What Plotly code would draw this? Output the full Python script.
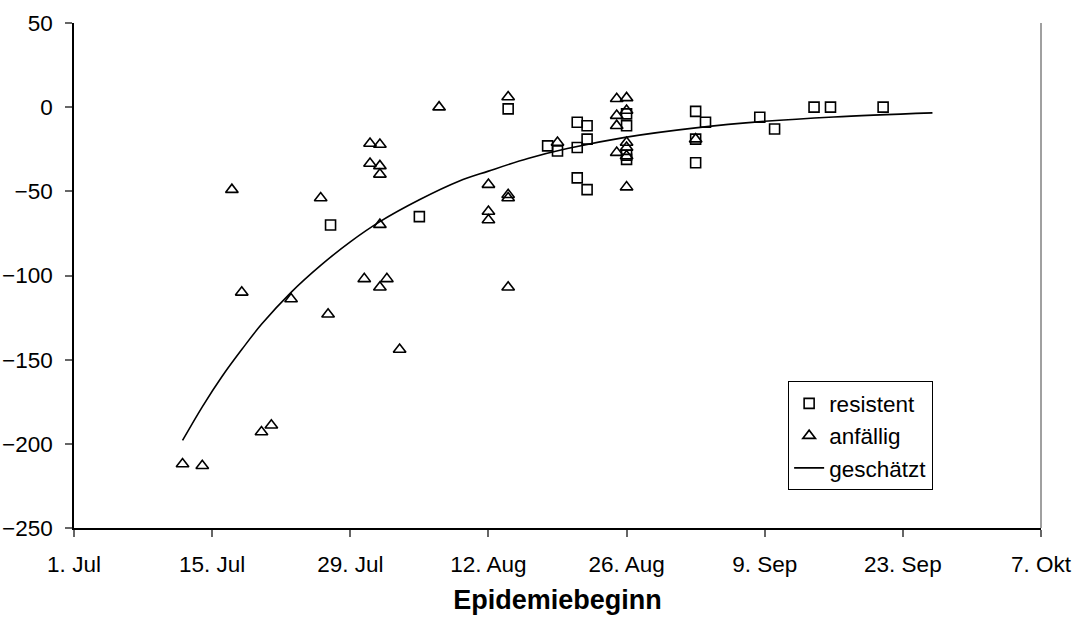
import plotly.graph_objects as go

# --- data ---
res_dates = ["2003-07-27", "2003-08-05", "2003-08-14", "2003-08-18", "2003-08-19",
             "2003-08-21", "2003-08-22", "2003-08-22", "2003-08-21", "2003-08-21",
             "2003-08-22", "2003-08-26", "2003-08-26", "2003-08-26", "2003-08-26",
             "2003-09-02", "2003-09-03", "2003-09-02", "2003-09-02", "2003-09-08 12:00",
             "2003-09-10", "2003-09-14", "2003-09-15 16:00", "2003-09-21"]
res_values = [-70, -65, -1, -23, -26,
              -9, -11, -19, -24, -42,
              -49, -4, -11, -28.5, -31,
              -2.5, -9, -19, -33, -6,
              -13, 0, 0, 0]

anf_dates = ["2003-07-12", "2003-07-14", "2003-07-17", "2003-07-18", "2003-07-20",
             "2003-07-21", "2003-07-23", "2003-07-26", "2003-07-26 18:00", "2003-07-30 10:00",
             "2003-07-31", "2003-07-31", "2003-08-01", "2003-08-01", "2003-08-01",
             "2003-08-01", "2003-08-01", "2003-08-01 17:00", "2003-08-03", "2003-08-07",
             "2003-08-12", "2003-08-12", "2003-08-12", "2003-08-14", "2003-08-14",
             "2003-08-14", "2003-08-14", "2003-08-19", "2003-08-25", "2003-08-26",
             "2003-08-25", "2003-08-26", "2003-08-25", "2003-08-26", "2003-08-26",
             "2003-08-25", "2003-08-26", "2003-08-26", "2003-09-02"]
anf_values = [-212, -213, -49, -110, -193,
              -189, -114, -54, -123, -102,
              -21.6, -33.5, -22.2, -34.9, -39.9,
              -69.8, -107, -102, -144, 0,
              -46, -62, -67, 6, -52,
              -54, -107, -21, 5, 5.5,
              -5, -2, -11, -21, -24,
              -27, -29, -47.5, -19]

est_dates = ["2003-07-12", "2003-07-14", "2003-07-16", "2003-07-18", "2003-07-20",
             "2003-07-23", "2003-07-26", "2003-07-29", "2003-08-01", "2003-08-05",
             "2003-08-09", "2003-08-12", "2003-08-16", "2003-08-20", "2003-08-26",
             "2003-09-02", "2003-09-09", "2003-09-16", "2003-09-26"]
est_values = [-198, -178, -160, -144, -129,
              -110, -94, -80, -68, -55,
              -44, -38, -30.5, -24.6, -17.8,
              -12.3, -8.4, -5.8, -3.4]

tick_dates = ["2003-07-01", "2003-07-15", "2003-07-29", "2003-08-12",
              "2003-08-26", "2003-09-09", "2003-09-23", "2003-10-07"]
tick_labels = ["1. Jul", "15. Jul", "29. Jul", "12. Aug",
               "26. Aug", "9. Sep", "23. Sep", "7. Okt"]
y_ticks = [50, 0, -50, -100, -150, -200, -250]

FONT = "Liberation Sans, Arial, sans-serif"

fig = go.Figure()
fig.add_trace(go.Scatter(
    x=res_dates, y=res_values, mode="markers", name="resistent",
    marker=dict(symbol="square-open", size=10, color="black", line=dict(width=1.6, color="black")),
))
fig.add_trace(go.Scatter(
    x=anf_dates, y=anf_values, mode="markers", name="anfällig",
    marker=dict(symbol="triangle-up-open", size=11, color="black", line=dict(width=1.6, color="black")),
))
fig.add_trace(go.Scatter(
    x=est_dates, y=est_values, mode="lines", name="geschätzt",
    line=dict(color="black", width=1.6, shape="spline"),
))

fig.update_layout(
    width=1079, height=621,
    margin=dict(l=74, r=38, t=23, b=93),
    paper_bgcolor="white", plot_bgcolor="white",
    font=dict(family=FONT, size=22.5, color="black"),
    showlegend=True,
    legend=dict(
        x=0.7385, y=0.2905, xanchor="left", yanchor="top",
        bgcolor="white", bordercolor="black", borderwidth=1,
        font=dict(family=FONT, size=22.5, color="black"),
    ),
    xaxis=dict(
        type="date", automargin=False,
        range=["2003-07-01", "2003-10-07"],
        tickmode="array", tickvals=tick_dates, ticktext=tick_labels,
        showgrid=False, zeroline=False,
        showline=True, linecolor="black", linewidth=1.5,
        ticks="outside", ticklen=7, tickcolor="#666666", tickwidth=1.5,
        ticklabelstandoff=8,
        title=dict(text="<b>Epidemiebeginn</b>", font=dict(family=FONT, size=27, color="black"), standoff=14),
    ),
    yaxis=dict(
        range=[-250, 50], automargin=False,
        tickmode="array", tickvals=y_ticks,
        showgrid=False, zeroline=False,
        showline=True, linecolor="black", linewidth=1.5,
        ticks="outside", ticklen=7, tickcolor="#666666", tickwidth=1.5,
        ticklabelstandoff=8,
    ),
    shapes=[dict(type="line", xref="paper", yref="paper", x0=1, x1=1, y0=0, y1=1,
                 line=dict(color="#808080", width=1.5))],
)

fig.write_html("out.html")
